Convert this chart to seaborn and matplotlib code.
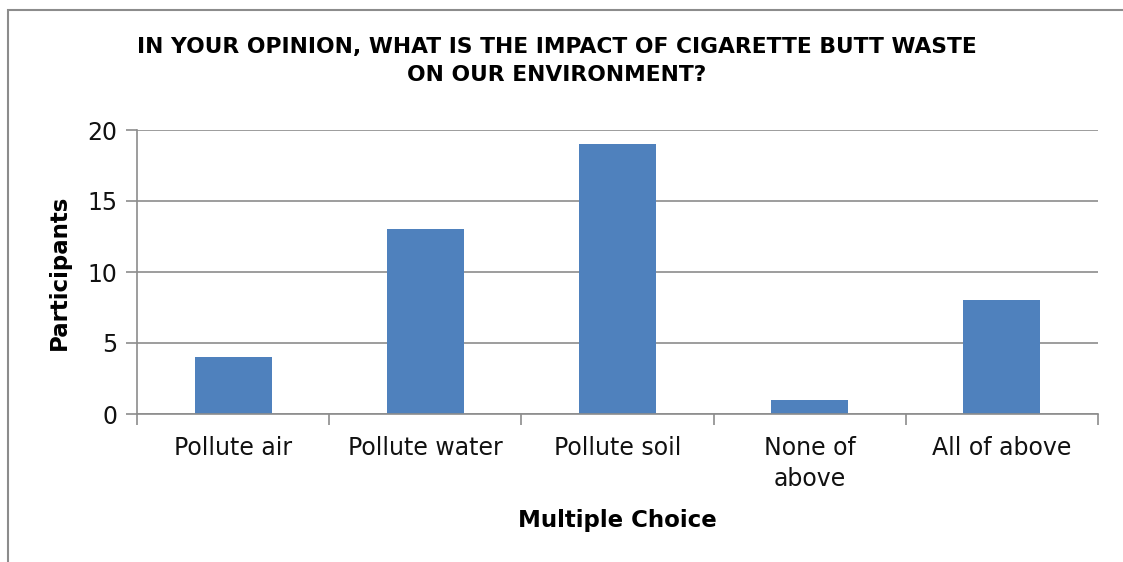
import matplotlib
matplotlib.use("Agg")
import matplotlib.pyplot as plt
import seaborn as sns
import pandas as pd
from matplotlib.patches import Rectangle

categories = ["Pollute air", "Pollute water", "Pollute soil", "None of\nabove", "All of above"]
participants = [4, 13, 19, 1, 8]
yticks = [0, 5, 10, 15, 20]
title = "IN YOUR OPINION, WHAT IS THE IMPACT OF CIGARETTE BUTT WASTE\nON OUR ENVIRONMENT?"

sns.set_theme(style="white")
plt.rcParams['font.family'] = ['DejaVu Sans']

df = pd.DataFrame({"choice": categories, "count": participants})

W, H = 1123, 562
fig = plt.figure(figsize=(W / 100, H / 100), dpi=100)
ax = fig.add_axes([137 / W, 1 - 414 / H, (1098 - 137) / W, (414 - 130) / H])

sns.barplot(data=df, x="choice", y="count", color="#4F81BD", saturation=1,
            width=0.4, ax=ax, zorder=3, linewidth=0, edgecolor="none")

ax.set_xlim(-0.5, len(categories) - 0.5)
ax.set_ylim(0, 20)
ax.set_yticks(yticks)
ax.set_yticklabels([str(v) for v in yticks], fontsize=17, color="#111111")
ax.yaxis.grid(True, color="#8C8C8C", linewidth=1.2, zorder=0)
ax.xaxis.grid(False)

ax.set_xticks(range(len(categories)))
ax.set_xticklabels(categories, fontsize=17, color="#111111", linespacing=1.35)
ax.set_xticks([i - 0.5 for i in range(len(categories) + 1)], minor=True)
ax.tick_params(axis="x", which="major", length=0, pad=16)
ax.tick_params(axis="x", which="minor", length=8, width=1.2, color="#8C8C8C", direction="out", bottom=True)
ax.tick_params(axis="y", length=8, width=1.2, color="#8C8C8C", direction="out", left=True, pad=6)

for s in ["top", "right"]:
    ax.spines[s].set_visible(False)
for s in ["left", "bottom"]:
    ax.spines[s].set_color("#8C8C8C")
    ax.spines[s].set_linewidth(1.2)
    ax.spines[s].set_zorder(4)

ax.set_xlabel("Multiple Choice", fontsize=16.5, fontweight="bold", labelpad=13, color="#000000")
ax.set_ylabel("Participants", fontsize=16.5, fontweight="bold", labelpad=12, color="#000000")

fig.text(557 / W, 1 - 61 / H, title, ha="center", va="center", fontsize=15.7,
         fontweight="bold", linespacing=1.5, color="#000000")

fig.patches.append(Rectangle((8 / W, -0.1), 1.2, (1 - 10 / H) + 0.1, transform=fig.transFigure,
                             fill=False, edgecolor="#8C8C8C", linewidth=1.5))

fig.savefig("out.png", dpi=100)
